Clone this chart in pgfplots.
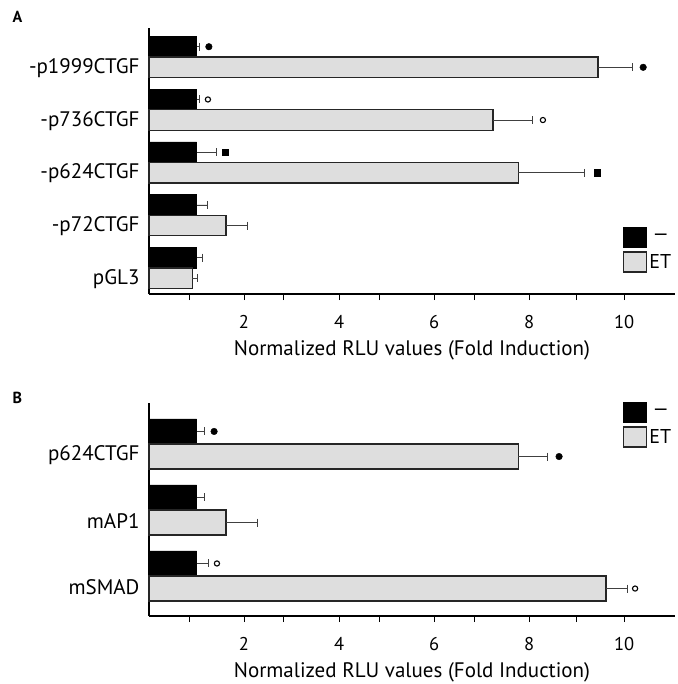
\documentclass[border=0pt]{standalone}
\usepackage{fontspec}
\setmainfont{PT Sans}
\usepackage{pgfplots}
\usepackage{pgfplotstable}
\pgfplotsset{compat=1.18}
\definecolor{barGray}{HTML}{DEDEDE}

\pgfplotstableread{
y b be g ge
5 1.00 0.05 9.45 0.72
4 1.00 0.05 7.24 0.82
3 1.00 0.41 7.77 1.39
2 1.00 0.22 1.62 0.46
1 1.00 0.12 0.91 0.10
}\dataA
\pgfplotstableread{
y b be g ge
3 1.00 0.16 7.77 0.61
2 1.00 0.16 1.62 0.65
1 1.00 0.24 9.62 0.44
}\dataB

\pgfplotsset{
  panel/.style={
    scale only axis, width=526pt,
    xmin=0, xmax=11.07,
    axis x line*=bottom, axis y line*=left,
    axis line style={line width=1.3pt},
    xtick={2,4,6,8,10},
    minor xtick={0.86,2.84,4.86,6.86,8.99},
    tick align=outside,
    major tick length=6pt, minor tick length=6pt,
    x tick style={line width=1pt, black},
    y tick style={draw=none},
    /pgf/number format/assume math mode=true,
    xticklabel style={font=\fontsize{18.5}{18.5}\selectfont, yshift=-12pt},
    yticklabel style={font=\fontsize{21}{21}\selectfont, yshift=-11pt},
    xlabel={Normalized RLU values (Fold Induction)},
    xlabel style={font=\fontsize{21}{21}\selectfont, yshift=-5pt},
    clip=false,
    legend cell align=left,
    legend image code/.code={\draw[#1, line width=1.2pt] (0pt,-10pt) rectangle (23pt,10pt);},
    legend style={draw=none, fill=none, inner sep=0pt, row sep=3pt,
      font=\fontsize{20}{20}\selectfont, anchor=north west},
  },
  blk/.style={xbar, bar shift=0pt, fill=black, draw=black, line width=0.8pt,
    error bars/.cd, x dir=plus, x explicit, error mark=|,
    error bar style={line width=0.7pt, black!75},
    error mark options={black!75, line width=0.7pt, mark size=4pt},
    /pgfplots/.cd},
  gry/.style={xbar, bar shift=0pt, fill=barGray, draw=black!85, line width=1.3pt,
    error bars/.cd, x dir=plus, x explicit, error mark=|,
    error bar style={line width=0.7pt, black!75},
    error mark options={black!75, line width=0.7pt, mark size=4pt},
    /pgfplots/.cd},
  fdot/.style={only marks, mark=*, mark size=3.3pt, black, forget plot},
  odot/.style={only marks, mark=o, mark size=2.6pt, black, line width=1.1pt, forget plot},
  fsq/.style={only marks, mark=square*, mark size=3.3pt, black, forget plot},
}

\begin{document}
\begin{tikzpicture}
\path[use as bounding box] (0,0) rectangle (677pt,-684pt);

\begin{axis}[panel, at={(149pt,-294pt)}, anchor=south west,
  height=266pt, ymin=0.507, ymax=5.55,
  ytick={1,2,3,4,5},
  yticklabels={pGL3,-p72CTGF,-p624CTGF,-p736CTGF,-p1999CTGF},
  bar width=0.39,
  legend style={at={(0.901,0.252)}},
]
\addplot[blk] table[x=b, y expr=\thisrow{y}+0.195, x error=be] {\dataA};
\addlegendentry{\,\textemdash}
\addplot[gry] table[x=g, y expr=\thisrow{y}-0.195, x error=ge] {\dataA};
\addlegendentry{ET}
\addplot[fdot] coordinates {(1.26,5.195) (10.40,4.805)};
\addplot[odot] coordinates {(1.24,4.195) (8.29,3.805)};
\addplot[fsq] coordinates {(1.60,3.195) (9.43,2.805)};
\end{axis}

\begin{axis}[panel, at={(149pt,-616pt)}, anchor=south west,
  height=213pt, ymin=0.394, ymax=3.621,
  ytick={1,2,3},
  yticklabels={mSMAD,mAP1,p624CTGF},
  bar width=0.38,
  legend style={at={(0.901,1.005)}},
]
\addplot[blk] table[x=b, y expr=\thisrow{y}+0.19, x error=be] {\dataB};
\addlegendentry{\,\textemdash}
\addplot[gry] table[x=g, y expr=\thisrow{y}-0.19, x error=ge] {\dataB};
\addlegendentry{ET}
\addplot[fdot] coordinates {(1.37,3.19) (8.63,2.81)};
\addplot[odot] coordinates {(1.43,1.19) (10.23,0.81)};
\end{axis}

\node[anchor=north west, inner sep=0pt, font=\bfseries\fontsize{16}{16}\selectfont] at (12.5pt,-11.5pt) {A};
\node[anchor=north west, inner sep=0pt, font=\bfseries\fontsize{16}{16}\selectfont] at (12.5pt,-391.5pt) {B};
\end{tikzpicture}
\end{document}
